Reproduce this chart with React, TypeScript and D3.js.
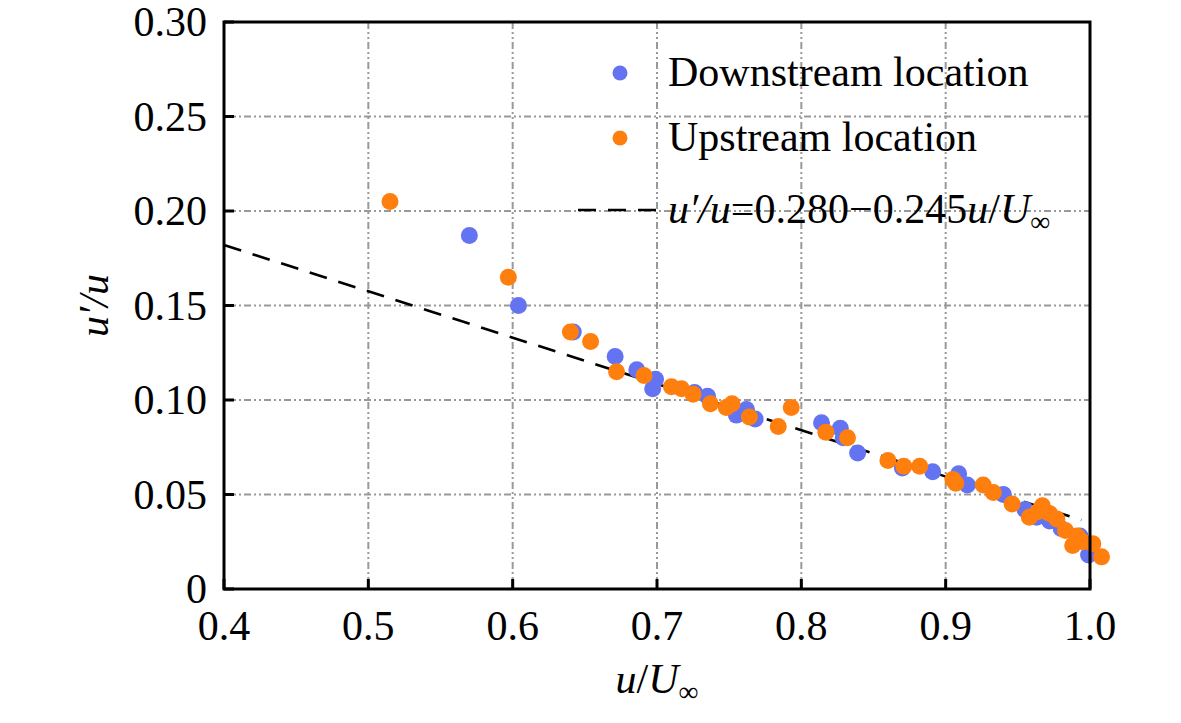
import React, { useRef, useEffect } from "react";
import * as d3 from "d3";

// Downstream location (blue)
const downX = [0.570, 0.604, 0.642, 0.671, 0.686, 0.697, 0.699, 0.726, 0.735, 0.755, 0.762, 0.768, 0.814, 0.827, 0.829, 0.839, 0.870, 0.891, 0.909, 0.915, 0.940, 0.955, 0.963, 0.972, 0.980, 0.993, 0.999];
const downY = [0.187, 0.150, 0.136, 0.123, 0.116, 0.106, 0.111, 0.104, 0.102, 0.092, 0.095, 0.090, 0.088, 0.085, 0.080, 0.072, 0.064, 0.062, 0.061, 0.055, 0.050, 0.042, 0.038, 0.036, 0.032, 0.028, 0.018];

// Upstream location (orange)
const upX = [0.515, 0.597, 0.640, 0.654, 0.672, 0.691, 0.710, 0.717, 0.725, 0.737, 0.748, 0.752, 0.764, 0.784, 0.793, 0.817, 0.832, 0.860, 0.871, 0.882, 0.905, 0.907, 0.926, 0.933, 0.946, 0.958, 0.964, 0.967, 0.972, 0.977, 0.983, 0.988, 0.991, 0.995, 1.002, 1.008];
const upY = [0.205, 0.165, 0.136, 0.131, 0.115, 0.113, 0.107, 0.106, 0.103, 0.098, 0.096, 0.098, 0.091, 0.086, 0.096, 0.083, 0.080, 0.068, 0.065, 0.065, 0.058, 0.056, 0.055, 0.051, 0.045, 0.038, 0.041, 0.044, 0.040, 0.037, 0.031, 0.023, 0.028, 0.025, 0.024, 0.017];

const xTicks = [0.4, 0.5, 0.6, 0.7, 0.8, 0.9, 1.0];
const yTicks = [0, 0.05, 0.1, 0.15, 0.2, 0.25, 0.3];

// fitted line u'/u = 0.280 - 0.245 u/U∞
const fitA = 0.28;
const fitB = 0.245;
const fitRange = [0.4, 0.994];

const BLUE = "#6373f2";
const ORANGE = "#ff7f0e";
const FONT = "'Liberation Serif', 'Times New Roman', serif";

const App: React.FC = () => {
  const svgRef = useRef<SVGSVGElement | null>(null);
  const width = 1181;
  const height = 723;

  useEffect(() => {
    if (!svgRef.current) return;
    d3.select(svgRef.current).selectAll("*").remove();

    const margin = { top: 22, right: 91, bottom: 134, left: 224 };
    const innerWidth = width - margin.left - margin.right;
    const innerHeight = height - margin.top - margin.bottom;

    const x = d3.scaleLinear().domain([0.4, 1.0]).range([0, innerWidth]);
    const y = d3.scaleLinear().domain([0, 0.3]).range([innerHeight, 0]);

    const svg = d3
      .select(svgRef.current)
      .attr("width", width)
      .attr("height", height)
      .attr("viewBox", `0 0 ${width} ${height}`);

    svg.append("rect").attr("width", width).attr("height", height).attr("fill", "white");

    const g = svg.append("g").attr("transform", `translate(${margin.left},${margin.top})`);

    // grid
    const gridDash = "7,3,2,3,2,3";
    g.selectAll(".gx")
      .data(xTicks.slice(1, -1))
      .enter()
      .append("line")
      .attr("x1", (d) => x(d))
      .attr("x2", (d) => x(d))
      .attr("y1", 0)
      .attr("y2", innerHeight)
      .attr("stroke", "#999")
      .attr("stroke-width", 2)
      .attr("stroke-dasharray", gridDash);
    g.selectAll(".gy")
      .data(yTicks.slice(1, -1))
      .enter()
      .append("line")
      .attr("x1", 0)
      .attr("x2", innerWidth)
      .attr("y1", (d) => y(d))
      .attr("y2", (d) => y(d))
      .attr("stroke", "#999")
      .attr("stroke-width", 2)
      .attr("stroke-dasharray", gridDash);

    // fit line
    const line = d3
      .line<number>()
      .x((d) => x(d))
      .y((d) => y(fitA - fitB * d));
    g.append("path")
      .datum(fitRange)
      .attr("fill", "none")
      .attr("stroke", "black")
      .attr("stroke-width", 2.6)
      .attr("stroke-dasharray", "18,12")
      .attr("d", line);

    // scatter points
    g.selectAll(".down")
      .data(downX)
      .enter()
      .append("circle")
      .attr("cx", (d) => x(d))
      .attr("cy", (_, i) => y(downY[i]))
      .attr("r", 8.5)
      .attr("fill", BLUE);
    g.selectAll(".up")
      .data(upX)
      .enter()
      .append("circle")
      .attr("cx", (d) => x(d))
      .attr("cy", (_, i) => y(upY[i]))
      .attr("r", 8.5)
      .attr("fill", ORANGE);

    // frame
    g.append("rect")
      .attr("width", innerWidth)
      .attr("height", innerHeight)
      .attr("fill", "none")
      .attr("stroke", "black")
      .attr("stroke-width", 3);

    // ticks (inward, bottom and left)
    g.selectAll(".tx")
      .data(xTicks)
      .enter()
      .append("line")
      .attr("x1", (d) => x(d))
      .attr("x2", (d) => x(d))
      .attr("y1", innerHeight)
      .attr("y2", innerHeight - 10)
      .attr("stroke", "black")
      .attr("stroke-width", 3);
    g.selectAll(".ty")
      .data(yTicks)
      .enter()
      .append("line")
      .attr("x1", 0)
      .attr("x2", 10)
      .attr("y1", (d) => y(d))
      .attr("y2", (d) => y(d))
      .attr("stroke", "black")
      .attr("stroke-width", 3);

    // tick labels
    g.selectAll(".lx")
      .data(xTicks)
      .enter()
      .append("text")
      .attr("x", (d) => x(d))
      .attr("y", innerHeight + 51)
      .attr("text-anchor", "middle")
      .attr("font-family", FONT)
      .attr("font-size", 42)
      .text((d) => d.toFixed(1));
    g.selectAll(".ly")
      .data(yTicks)
      .enter()
      .append("text")
      .attr("x", -17)
      .attr("y", (d) => y(d) + 14)
      .attr("text-anchor", "end")
      .attr("font-family", FONT)
      .attr("font-size", 42)
      .text((d) => (d === 0 ? "0" : d.toFixed(2)));

    // axis titles
    const xt = g
      .append("text")
      .attr("x", innerWidth / 2)
      .attr("y", innerHeight + 104)
      .attr("text-anchor", "middle")
      .attr("font-family", FONT)
      .attr("font-size", 42);
    xt.append("tspan").attr("font-style", "italic").text("u");
    xt.append("tspan").text("/");
    xt.append("tspan").attr("font-style", "italic").text("U");
    xt.append("tspan").attr("font-size", 28).attr("dy", 8).text("∞");

    g.append("text")
      .attr("transform", `translate(${-116},${innerHeight / 2}) rotate(-90)`)
      .attr("text-anchor", "middle")
      .attr("font-family", FONT)
      .attr("font-size", 42)
      .attr("font-style", "italic")
      .text("u′/u");

    // legend
    const legend = g.append("g").attr("transform", `translate(${innerWidth - 461}, 0)`);
    const rows = [
      { color: BLUE, label: "Downstream location" },
      { color: ORANGE, label: "Upstream location" },
    ];
    rows.forEach((r, i) => {
      const cy = 51 + i * 65;
      legend.append("circle").attr("cx", -9).attr("cy", cy).attr("r", 7.5).attr("fill", r.color);
      legend
        .append("text")
        .attr("x", 39)
        .attr("y", cy + 13)
        .attr("font-family", FONT)
        .attr("font-size", 42)
        .text(r.label);
    });
    const ly = 51 + 2 * 65;
    legend
      .append("line")
      .attr("x1", -51)
      .attr("x2", 28)
      .attr("y1", ly + 7)
      .attr("y2", ly + 7)
      .attr("stroke", "black")
      .attr("stroke-width", 2.6)
      .attr("stroke-dasharray", "18,12");
    const lt = legend
      .append("text")
      .attr("x", 39)
      .attr("y", ly + 20)
      .attr("font-family", FONT)
      .attr("font-size", 42);
    lt.append("tspan").attr("font-style", "italic").text("u′/u");
    lt.append("tspan").text("=0.280−0.245");
    lt.append("tspan").attr("font-style", "italic").text("u");
    lt.append("tspan").text("/");
    lt.append("tspan").attr("font-style", "italic").text("U");
    lt.append("tspan").attr("font-size", 28).attr("dy", 8).text("∞");
  }, []);

  return <svg ref={svgRef} style={{ position: "absolute", left: 0, top: 0 }}></svg>;
};

export default App;
